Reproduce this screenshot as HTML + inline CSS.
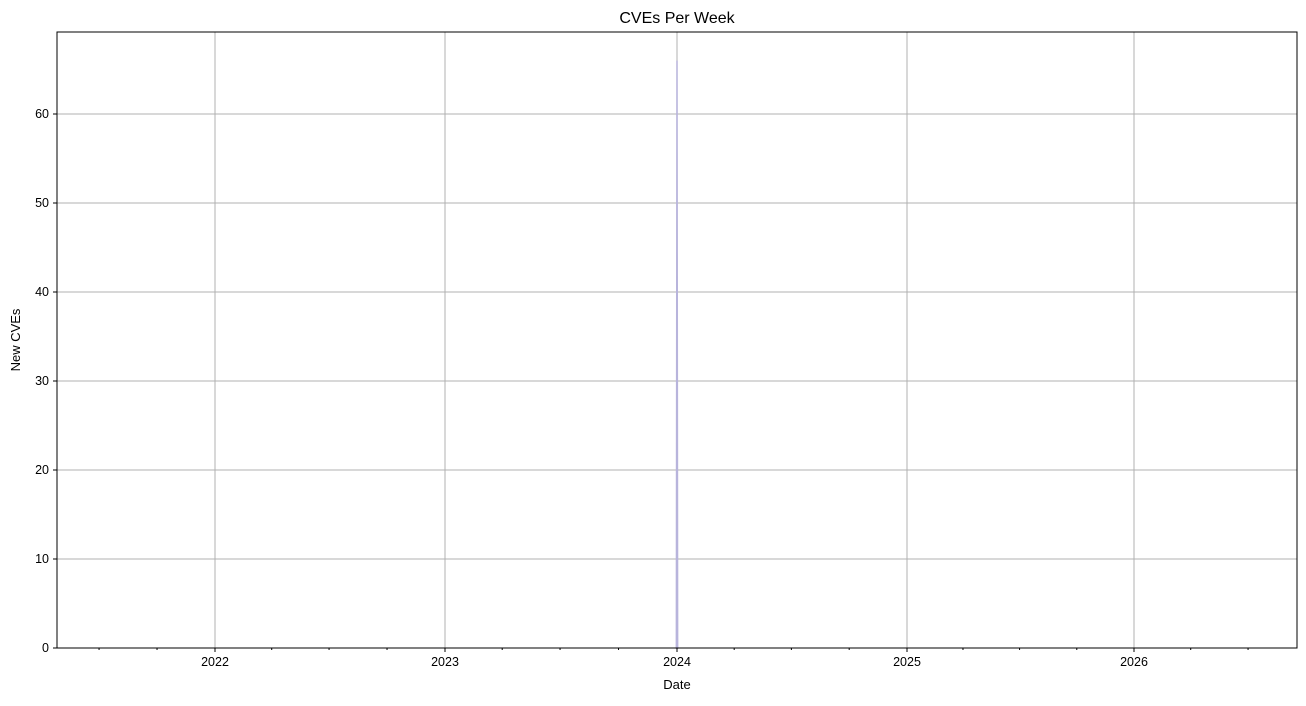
<!DOCTYPE html>
<html><head><meta charset="utf-8"><style>
body{margin:0;background:#fff;font-family:"Liberation Sans",sans-serif}
text{font-family:"Liberation Sans",sans-serif;fill:#000}
</style></head><body>
<svg id="chart" width="1306" height="701" xmlns="http://www.w3.org/2000/svg">
<text x="677" y="23" font-size="16" text-anchor="middle">CVEs Per Week</text>
<g id="grid"></g><g id="marks"></g><g id="axes"></g>
<text x="677" y="689" font-size="13" text-anchor="middle">Date</text>
<text transform="translate(20,340) rotate(-90)" font-size="13" text-anchor="middle">New CVEs</text>
</svg>
<script>
const weekDates = ["2023-12-31","2024-01-01","2024-01-02"];
const weekCounts = [0, 66, 0];
const yTicks = [0,10,20,30,40,50,60];
const xYears = ["2022","2023","2024","2025","2026"];
const ns="http://www.w3.org/2000/svg";
const L=57,R=1297,T=32,B=648;
const yearPx={2021:-15,2022:215,2023:445,2024:677,2025:907,2026:1134,2027:1364};
function X(d){const dt=new Date(d+"T00:00:00Z");const y=dt.getUTCFullYear();
 const s=Date.UTC(y,0,1),e=Date.UTC(y+1,0,1);return yearPx[y]+(dt-s)/(e-s)*(yearPx[y+1]-yearPx[y]);}
function Y(v){return B-v*8.9;}
function mk(tag,attrs,parent){const e=document.createElementNS(ns,tag);for(const k in attrs)e.setAttribute(k,attrs[k]);parent.appendChild(e);return e;}
const grid=document.getElementById('grid'),axes=document.getElementById('axes'),marks=document.getElementById('marks');
yTicks.forEach(v=>{const y=Y(v);
 const g=mk('line',{x1:L,x2:R,y1:y,y2:y,stroke:'#b0b0b0','stroke-width':1},grid);
 
 
 mk('line',{x1:L-4,x2:L,y1:y,y2:y,stroke:'#000'},axes);
 const t=mk('text',{x:L-8,y:y+4,'font-size':12.5,'text-anchor':'end'},axes);t.textContent=v;
 
 
});
xYears.forEach(yr=>{const x=X(yr+"-01-01");
 const g=mk('line',{x1:x,x2:x,y1:T,y2:B,stroke:'#b0b0b0','stroke-width':1},grid);
 
 
 mk('line',{x1:x,x2:x,y1:B,y2:B+4,stroke:'#000'},axes);
 const t=mk('text',{x:x,y:B+18,'font-size':12.5,'text-anchor':'middle'},axes);t.textContent=yr;
 
 
});
for(let y=2021;y<=2026;y++)for(const m of ["04","07","10"]){const x=X(y+"-"+m+"-01");
 if(x>L&&x<R)mk('line',{x1:x,x2:x,y1:B,y2:B+2,stroke:'#000'},axes);}
let d="M"+X(weekDates[0])+","+Y(0);
weekDates.forEach((dt,i)=>{d+=" L"+X(dt)+","+Y(weekCounts[i]);});
d+=" L"+X(weekDates[weekDates.length-1])+","+Y(0)+"Z";
const area=mk('path',{d:d,fill:'#b8b4dc',stroke:'#b8b4dc','stroke-width':1.5},marks);


const frame=mk('rect',{x:L,y:T,width:R-L,height:B-T,fill:'none',stroke:'#000','stroke-width':1},axes);


</script>
</body></html>
